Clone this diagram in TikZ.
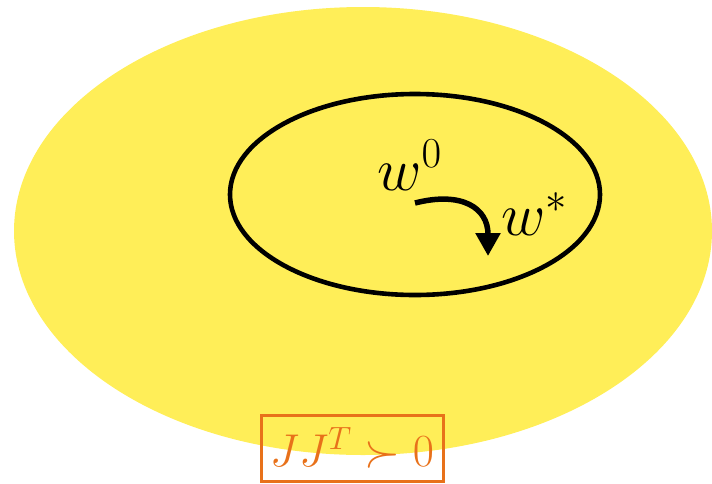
\documentclass[tikz,border=0pt]{standalone}
\usepackage{fix-cm}
\usetikzlibrary{arrows.meta}
\definecolor{sunyellow}{RGB}{255,238,88}
\definecolor{boxorange}{RGB}{232,113,26}
\tikzset{
  bigmath/.style={inner sep=0pt, font=\fontsize{61}{72}\selectfont},
  condbox/.style={draw=boxorange, line width=3pt, text=boxorange, inner sep=0pt,
    minimum width=182pt, minimum height=66pt, font=\fontsize{46}{54}\selectfont},
}
\begin{document}
\begin{tikzpicture}[x=1pt,y=-1pt]
\useasboundingbox (0,0) rectangle (712,483);
\clip (0,0) rectangle (712,483);
\fill[sunyellow] (363,231) ellipse [x radius=349, y radius=224];
\draw[line width=4.6pt] (415,194.5) ellipse [x radius=185, y radius=100.5];
\node[bigmath, anchor=base west] (w0) at (377,190) {$w^0$};
\node[bigmath, anchor=base west] (ws) at (501,235) {$w^*$};
\coordinate (s) at (415,203);
\coordinate (t) at (488,256);
\draw[line width=5.5pt, -{Triangle[length=23pt,width=24pt]}] (s) .. controls (462,191) and (488,208) .. (t);
\node[condbox] (cond) at (352,448) {$JJ^T \succ 0$};
\end{tikzpicture}
\end{document}
